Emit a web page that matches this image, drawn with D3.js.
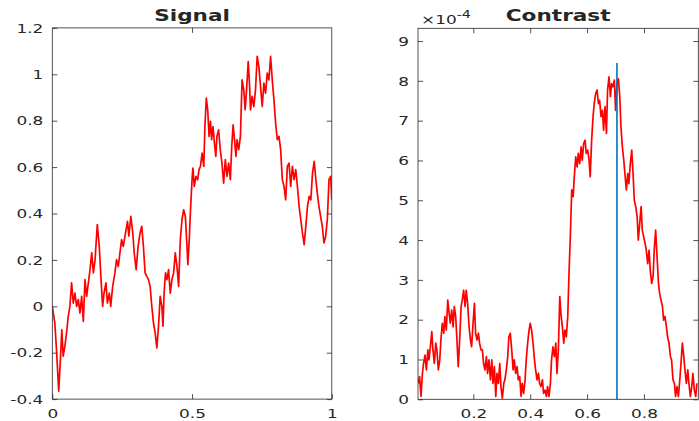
<!DOCTYPE html>
<html>
<head>
<meta charset="utf-8">
<script src="https://cdnjs.cloudflare.com/ajax/libs/d3/7.8.5/d3.min.js"></script>
<style>
  body { margin: 0; background: #fff; }
  text { font-family: "DejaVu Sans", sans-serif; fill: #262626; }
</style>
</head>
<body>
<script>
const w = 699;
const h = 421;
const stretch = 1.3; // the picture's text is drawn a bit wide

// left panel: the signal
const signalT = [0, 0.009, 0.015, 0.023, 0.029, 0.034, 0.039, 0.045, 0.051, 0.057,
  0.063, 0.069, 0.075, 0.081, 0.087, 0.093, 0.099, 0.105, 0.111, 0.117,
  0.123, 0.129, 0.135, 0.141, 0.147, 0.153, 0.161, 0.168, 0.173, 0.180,
  0.185, 0.192, 0.197, 0.204, 0.209, 0.216, 0.224, 0.230, 0.236, 0.242,
  0.248, 0.254, 0.260, 0.269, 0.274, 0.281, 0.288, 0.293, 0.300, 0.307,
  0.314, 0.320, 0.326, 0.332, 0.338, 0.344, 0.350, 0.356, 0.362, 0.368,
  0.374, 0.380, 0.386, 0.392, 0.396, 0.400, 0.405, 0.410, 0.416, 0.422,
  0.428, 0.434, 0.440, 0.446, 0.452, 0.458, 0.464, 0.470, 0.476, 0.482,
  0.485, 0.490, 0.494, 0.500, 0.503, 0.508, 0.514, 0.520, 0.525, 0.530,
  0.536, 0.542, 0.546, 0.551, 0.556, 0.561, 0.566, 0.570, 0.575, 0.580,
  0.585, 0.589, 0.595, 0.601, 0.607, 0.613, 0.619, 0.625, 0.631, 0.637,
  0.642, 0.647, 0.652, 0.657, 0.661, 0.667, 0.673, 0.679, 0.685, 0.690,
  0.695, 0.701, 0.706, 0.709, 0.715, 0.721, 0.727, 0.733, 0.739, 0.745,
  0.751, 0.757, 0.763, 0.769, 0.775, 0.781, 0.787, 0.793, 0.799, 0.805,
  0.811, 0.817, 0.823, 0.829, 0.835, 0.841, 0.847, 0.853, 0.859, 0.865,
  0.871, 0.877, 0.883, 0.889, 0.895, 0.901, 0.907, 0.913, 0.919, 0.925,
  0.931, 0.937, 0.943, 0.948, 0.954, 0.960, 0.966, 0.972, 0.978, 0.984,
  0.990, 0.996, 1.000];
const signalV = [0, -0.072, -0.187, -0.366, -0.230, -0.101, -0.215, -0.172, -0.115, -0.043,
  0, 0.101, 0.014, 0.057, 0, 0.029, -0.029, 0.043, -0.065, 0.115,
  0.043, 0.101, 0.158, 0.230, 0.144, 0.201, 0.352, 0.258, 0.144, 0,
  0.057, 0.101, 0.014, 0.057, 0, 0.086, 0.144, 0.201, 0.172, 0.230,
  0.287, 0.258, 0.302, 0.366, 0.302, 0.388, 0.316, 0.230, 0.158, 0.258,
  0.316, 0.345, 0.258, 0.144, 0.129, 0.115, 0.086, 0, -0.072, -0.115,
  -0.179, -0.086, 0.043, 0, -0.086, 0.057, 0.144, 0.115, 0.158, 0.057,
  0.115, 0.144, 0.230, 0.172, 0.086, 0.287, 0.373, 0.416, 0.388, 0.258,
  0.179, 0.287, 0.402, 0.546, 0.596, 0.517, 0.560, 0.546, 0.589, 0.603,
  0.660, 0.603, 0.775, 0.897, 0.847, 0.732, 0.797, 0.718, 0.775, 0.704,
  0.646, 0.732, 0.761, 0.675, 0.617, 0.531, 0.632, 0.560, 0.617, 0.546,
  0.689, 0.782, 0.718, 0.646, 0.718, 0.675, 0.732, 0.976, 0.933, 0.847,
  0.933, 1.055, 0.948, 0.847, 0.905, 0.861, 0.933, 1.077, 1.034, 0.948,
  0.861, 0.962, 0.919, 1.005, 0.976, 1.077, 0.976, 0.890, 0.790, 0.718,
  0.732, 0.675, 0.546, 0.517, 0.459, 0.603, 0.617, 0.517, 0.603, 0.546,
  0.589, 0.517, 0.431, 0.373, 0.316, 0.266, 0.345, 0.431, 0.474, 0.459,
  0.574, 0.625, 0.546, 0.488, 0.431, 0.388, 0.345, 0.273, 0.302, 0.373,
  0.546, 0.560, 0.459];
const signalXTicks = [0, 0.5, 1];
const signalYTicks = [-0.4, -0.2, 0, 0.2, 0.4, 0.6, 0.8, 1, 1.2];

// right panel: the contrast, values in units of 10^-4
const contrastT = [0.007, 0.011, 0.016, 0.021, 0.025, 0.030, 0.035, 0.040, 0.044, 0.049,
  0.054, 0.058, 0.063, 0.068, 0.072, 0.077, 0.082, 0.086, 0.091, 0.096,
  0.100, 0.105, 0.110, 0.115, 0.119, 0.124, 0.129, 0.133, 0.138, 0.143,
  0.147, 0.152, 0.157, 0.161, 0.166, 0.171, 0.175, 0.180, 0.185, 0.190,
  0.194, 0.199, 0.204, 0.208, 0.213, 0.218, 0.222, 0.227, 0.232, 0.236,
  0.241, 0.246, 0.250, 0.255, 0.260, 0.265, 0.269, 0.274, 0.279, 0.283,
  0.288, 0.293, 0.297, 0.302, 0.307, 0.311, 0.316, 0.321, 0.325, 0.330,
  0.335, 0.340, 0.344, 0.349, 0.354, 0.358, 0.363, 0.368, 0.372, 0.377,
  0.382, 0.386, 0.391, 0.396, 0.400, 0.405, 0.410, 0.415, 0.419, 0.424,
  0.429, 0.433, 0.438, 0.443, 0.447, 0.452, 0.457, 0.461, 0.466, 0.471,
  0.475, 0.480, 0.485, 0.490, 0.494, 0.499, 0.504, 0.508, 0.513, 0.518,
  0.522, 0.527, 0.532, 0.536, 0.541, 0.546, 0.551, 0.555, 0.560, 0.565,
  0.569, 0.574, 0.579, 0.583, 0.588, 0.593, 0.597, 0.602, 0.607, 0.611,
  0.616, 0.621, 0.625, 0.630, 0.635, 0.640, 0.644, 0.649, 0.654, 0.658,
  0.663, 0.668, 0.672, 0.677, 0.682, 0.686, 0.691, 0.696, 0.700, 0.705,
  0.710, 0.715, 0.719, 0.724, 0.729, 0.733, 0.738, 0.743, 0.747, 0.752,
  0.757, 0.761, 0.766, 0.771, 0.776, 0.780, 0.785, 0.790, 0.794, 0.799,
  0.804, 0.808, 0.813, 0.818, 0.822, 0.827, 0.832, 0.836, 0.841, 0.846,
  0.851, 0.855, 0.860, 0.865, 0.869, 0.874, 0.879, 0.883, 0.888, 0.893,
  0.897, 0.902, 0.907, 0.911, 0.916, 0.921, 0.926, 0.930, 0.935, 0.940,
  0.944, 0.949, 0.954, 0.958, 0.963, 0.968, 0.972, 0.977, 0.982, 0.986];
const contrastV = [0.40, 0.57, 0.07, 0.65, 0.90, 1.11, 0.74, 1.24, 0.99, 1.32,
  1.70, 1.24, 0.90, 1.41, 1.24, 0.74, 0.99, 1.49, 1.91, 1.66,
  2.08, 1.74, 2.49, 2.16, 1.91, 2.24, 1.82, 2.33, 2.08, 1.41,
  0.82, 1.49, 2.33, 2.49, 2.74, 2.33, 2.74, 2.41, 1.82, 1.49,
  1.32, 1.91, 2.41, 1.66, 1.49, 1.66, 1.41, 1.24, 1.24, 0.90,
  0.74, 1.07, 0.65, 0.99, 0.49, 0.99, 0.40, 0.82, 0.07, 0.65,
  0.40, 0.90, 0.32, 0.03, 0.40, 0.49, 0.74, 1.07, 1.57, 1.66,
  1.24, 0.74, 0.99, 0.65, 0.82, 0.49, 0.57, 0.07, 0.40, 0.15,
  0.49, 0.99, 1.41, 1.74, 1.91, 1.74, 1.41, 0.99, 0.74, 0.49,
  0.65, 0.40, 0.32, 0.49, 0.15, 0.23, 0.07, 0.32, 0.07, 0.40,
  0.99, 1.32, 1.07, 1.41, 0.65, 1.24, 2.58, 2.16, 1.82, 1.41,
  1.74, 1.57, 2.08, 3.08, 4.08, 5.26, 5.09, 5.59, 6.09, 5.84,
  6.18, 5.92, 6.34, 6.01, 6.43, 6.51, 6.18, 6.26, 6.01, 5.59,
  6.51, 7.10, 7.43, 7.68, 7.77, 7.43, 7.51, 7.10, 7.26, 6.76,
  7.35, 6.68, 7.77, 8.10, 7.60, 7.93, 7.85, 8.02, 7.26, 7.93,
  8.05, 7.60, 6.85, 6.34, 6.01, 5.67, 5.26, 5.67, 5.42, 5.92,
  6.26, 5.76, 5.00, 4.84, 4.59, 4.00, 4.42, 4.84, 4.25, 4.08,
  3.92, 3.75, 3.41, 3.75, 3.25, 2.91, 3.08, 3.75, 4.25, 3.58,
  2.91, 2.66, 2.49, 2.33, 1.99, 2.08, 1.82, 1.57, 1.41, 1.07,
  0.99, 0.49, 0.40, 0.07, 0.32, 0.07, 0.49, 0.90, 1.41, 1.07,
  0.74, 0.40, 0.74, 0.40, 0.07, 0.32, 0.65, 0.23, 0.07, 0.40];
const contrastExp = "-4";
const peakT = 0.705;
const peakV = 8.45;
const contrastXTicks = [0.2, 0.4, 0.6, 0.8];
const contrastYTicks = [0, 1, 2, 3, 4, 5, 6, 7, 8, 9];

const svg = d3.select("body")
  .append("svg")
  .attr("width", w)
  .attr("height", h);

const axisColor = "#262626";
const fmt = d => String(+d.toFixed(1));

function drawPanel(p) {
  const x = d3.scaleLinear().domain(p.xDomain).range([p.left, p.right]);
  const y = d3.scaleLinear().domain(p.yDomain).range([p.bottom, p.top]);
  const g = svg.append("g");

  g.append("clipPath").attr("id", p.id)
    .append("rect")
    .attr("x", p.left).attr("y", p.top)
    .attr("width", p.right - p.left).attr("height", p.bottom - p.top);

  // the red curve
  const line = d3.line().x(d => x(d[0])).y(d => y(d[1]));
  g.append("path")
    .datum(d3.zip(p.t, p.v))
    .attr("clip-path", `url(#${p.id})`)
    .attr("fill", "none")
    .attr("stroke", "#ff0000")
    .attr("stroke-width", 1.7)
    .attr("stroke-linejoin", "round")
    .attr("d", line);

  if (p.peak) {
    g.append("path")
      .datum([[p.peak[0], 0], p.peak])
      .attr("fill", "none")
      .attr("stroke", "#0072bd")
      .attr("stroke-width", 1.6)
      .attr("d", line);
  }

  // ticks all round, pointing in (matlab box)
  const axes = [
    [d3.axisBottom(x).tickValues(p.xTicks), `translate(0,${p.bottom})`, true],
    [d3.axisTop(x).tickValues(p.xTicks.filter(v => v > p.xDomain[0] && v < p.xDomain[1])), `translate(0,${p.top})`, false],
    [d3.axisLeft(y).tickValues(p.yTicks), `translate(${p.left},0)`, true],
    [d3.axisRight(y).tickValues(p.yTicks.filter(v => v < p.yDomain[1])), `translate(${p.right},0)`, false]
  ];
  axes.forEach(([ax, tr, labels], i) => {
    const a = g.append("g")
      .attr("transform", tr)
      .call(ax.tickSize(-5).tickSizeOuter(0).tickPadding(0).tickFormat(labels ? fmt : ""));
    a.select(".domain").remove();
    a.selectAll("line").attr("stroke", axisColor).attr("stroke-width", 0.8);
    a.selectAll("text")
      .attr("font-family", "DejaVu Sans, sans-serif")
      .attr("font-size", 13)
      .attr("fill", "#333333");
    if (i === 0) {
      a.selectAll("text").attr("y", 0).attr("dy", 0)
        .attr("transform", `translate(0,19) scale(${stretch},1)`);
    }
    if (i === 2) {
      a.selectAll("text").attr("x", 0)
        .attr("transform", `translate(-9,0) scale(${stretch},1)`);
    }
  });

  g.append("rect")
    .attr("x", p.left).attr("y", p.top)
    .attr("width", p.right - p.left).attr("height", p.bottom - p.top)
    .attr("fill", "none")
    .attr("stroke", axisColor)
    .attr("stroke-width", 0.8);

  g.append("text")
    .attr("transform", `translate(${(p.left + p.right) / 2},20.5) scale(1.35,1)`)
    .attr("text-anchor", "middle")
    .attr("font-size", 16)
    .attr("font-weight", "bold")
    .attr("fill", "#000")
    .text(p.title);

  if (p.exp) {
    const t = g.append("text")
      .attr("transform", `translate(${p.left + 3},23.5) scale(${stretch},1)`)
      .attr("font-size", 13)
      .attr("fill", "#404040");
    t.append("tspan").text("\u00d710");
    t.append("tspan").attr("dy", -6).attr("font-size", 11).text(p.exp);
  }
}

drawPanel({
  id: "clipSignal", title: "Signal",
  left: 52.3, right: 331.8, top: 27.9, bottom: 399.1,
  xDomain: [0, 1], yDomain: [-0.4, 1.2],
  t: signalT, v: signalV,
  xTicks: signalXTicks, yTicks: signalYTicks
});

drawPanel({
  id: "clipContrast", title: "Contrast",
  left: 418, right: 698.3, top: 28.3, bottom: 399.3,
  xDomain: [0.0055, 0.991], yDomain: [0, 9.32],
  t: contrastT, v: contrastV,
  xTicks: contrastXTicks, yTicks: contrastYTicks,
  peak: [peakT, peakV], exp: contrastExp
});
</script>
</body>
</html>
